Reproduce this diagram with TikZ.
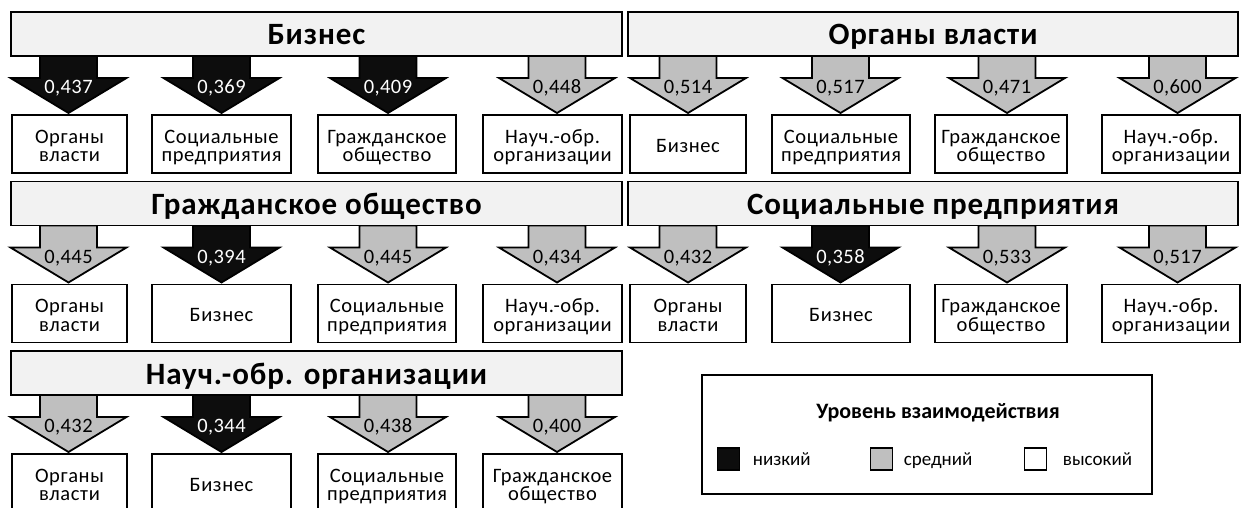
\documentclass[tikz,border=0pt]{standalone}
\usepackage{fontspec}
\setmainfont{Carlito}
\definecolor{dk}{HTML}{0D0D0D}
\definecolor{md}{HTML}{BFBFBF}
\definecolor{hd}{HTML}{F2F2F2}
% block arrow: name, centre x, top y, fill, text colour, value
\newcommand\flowarrow[6]{%
  \draw[fill=#4] (#2-28.5,#3) -- (#2+28.5,#3) -- (#2+28.5,#3+22) -- (#2+58,#3+22)
     -- (#2,#3+57) -- (#2-58,#3+22) -- (#2-28.5,#3+22) -- cycle;
  \node[val,text=#5] (#1) at (#2,#3+37.5) {#6};
}
% text box: name, centre x, centre y, width, line 1, line 2 (may be empty)
\newcommand\tbx[6]{%
  \node[tbox, minimum width=#4pt] (#1) at (#2,#3) {};
  \if\relax\detokenize{#6}\relax
    \node[btxt] (#1t) at (#2,#3+8.3) {#5};
  \else
    \node[btxt] (#1t) at (#2,#3-0.7) {#5};
    \node[btxt] (#1u) at (#2,#3+17.7) {#6};
  \fi
}
% header: name, centre x, top y, width, text
\newcommand\hdrbar[5]{%
  \node[hdr, minimum width=#4pt] (#1) at (#2,#3+22) {};
  \node[htxt] (#1t) at (#2,#3+33) {#5};
}
\begin{document}
\begin{tikzpicture}[x=1pt,y=-1pt, line width=1.8pt, line join=miter,
  hdr/.style={draw=black, fill=hd, minimum height=44pt, inner sep=0pt},
  htxt/.style={anchor=base, inner sep=0pt,
    font=\fontsize{31}{36}\selectfont\bfseries\addfontfeature{LetterSpace=3}},
  tbox/.style={draw=black, fill=white, inner sep=0pt, minimum height=58pt},
  btxt/.style={anchor=base, inner sep=0pt,
    font=\fontsize{20.5}{22}\selectfont\addfontfeature{LetterSpace=3}},
  val/.style={anchor=base, font=\fontsize{20.5}{22}\selectfont\addfontfeature{LetterSpace=2}, inner sep=0pt},
  lsq/.style={draw=black, minimum size=22pt, inner sep=0pt},
  ltxt/.style={anchor=base west, inner sep=0pt, font=\fontsize{19}{22}\selectfont},
]
\useasboundingbox (0,0) rectangle (1241,508);

% ---------- Row 1 (T = 12) ----------
\flowarrow{v11}{68.5}{56}{dk}{white}{0,437}
\flowarrow{v12}{221.5}{56}{dk}{white}{0,369}
\flowarrow{v13}{388}{56}{dk}{white}{0,409}
\flowarrow{v14}{557}{56}{md}{black}{0,448}
\hdrbar{h1}{316.5}{12}{611}{Бизнес}
\tbx{b11}{69.5}{144}{115}{Органы}{власти}
\tbx{b12}{221.5}{144}{139}{Социальные}{предприятия}
\tbx{b13}{387}{144}{138}{Гражданское}{общество}
\tbx{b14}{552.5}{144}{139}{Науч.-обр.}{организации}

\flowarrow{v21}{688}{56}{md}{black}{0,514}
\flowarrow{v22}{840.5}{56}{md}{black}{0,517}
\flowarrow{v23}{1007}{56}{md}{black}{0,471}
\flowarrow{v24}{1177.5}{56}{md}{black}{0,600}
\hdrbar{h2}{933}{12}{610}{Органы власти}
\tbx{b21}{688}{144}{116}{Бизнес}{}
\tbx{b22}{841}{144}{138}{Социальные}{предприятия}
\tbx{b23}{1001}{144}{132}{Гражданское}{общество}
\tbx{b24}{1171}{144}{138}{Науч.-обр.}{организации}

% ---------- Row 2 (T = 181.5) ----------
\flowarrow{v31}{68.5}{225.5}{md}{black}{0,445}
\flowarrow{v32}{221.5}{225.5}{dk}{white}{0,394}
\flowarrow{v33}{388}{225.5}{md}{black}{0,445}
\flowarrow{v34}{557}{225.5}{md}{black}{0,434}
\hdrbar{h3}{316.5}{181.5}{611}{Гражданское общество}
\tbx{b31}{69.5}{313.5}{115}{Органы}{власти}
\tbx{b32}{221.5}{313.5}{139}{Бизнес}{}
\tbx{b33}{387}{313.5}{138}{Социальные}{предприятия}
\tbx{b34}{552.5}{313.5}{139}{Науч.-обр.}{организации}

\flowarrow{v41}{688}{225.5}{md}{black}{0,432}
\flowarrow{v42}{840.5}{225.5}{dk}{white}{0,358}
\flowarrow{v43}{1007}{225.5}{md}{black}{0,533}
\flowarrow{v44}{1177.5}{225.5}{md}{black}{0,517}
\hdrbar{h4}{933}{181.5}{610}{Социальные предприятия}
\tbx{b41}{688}{313.5}{116}{Органы}{власти}
\tbx{b42}{841}{313.5}{138}{Бизнес}{}
\tbx{b43}{1001}{313.5}{132}{Гражданское}{общество}
\tbx{b44}{1171}{313.5}{138}{Науч.-обр.}{организации}

% ---------- Row 3 (T = 351) ----------
\flowarrow{v51}{68.5}{395}{md}{black}{0,432}
\flowarrow{v52}{221.5}{395}{dk}{white}{0,344}
\flowarrow{v53}{388}{395}{md}{black}{0,438}
\flowarrow{v54}{557}{395}{md}{black}{0,400}
\hdrbar{h5}{316.5}{351}{611}{Науч.-обр. организации}
\tbx{b51}{69.5}{483}{115}{Органы}{власти}
\tbx{b52}{221.5}{483}{139}{Бизнес}{}
\tbx{b53}{387}{483}{138}{Социальные}{предприятия}
\tbx{b54}{552.5}{483}{139}{Гражданское}{общество}

% ---------- Legend ----------
\node[draw=black, minimum width=450pt, minimum height=119pt, inner sep=0pt] (leg) at (927,434.5) {};
\node[anchor=base, inner sep=0pt, font=\fontsize{22}{24}\selectfont\bfseries] (legt) at (938,418.5) {Уровень взаимодействия};
\node[lsq, fill=dk] (sq1) at (728.5,459) {};
\node[ltxt] (lt1) at (752,465.5) {низкий};
\node[lsq, fill=md] (sq2) at (881.5,459) {};
\node[ltxt] (lt2) at (903,465.5) {средний};
\node[lsq, fill=white] (sq3) at (1035.5,459) {};
\node[ltxt] (lt3) at (1062,465.5) {высокий};
\end{tikzpicture}
\end{document}
